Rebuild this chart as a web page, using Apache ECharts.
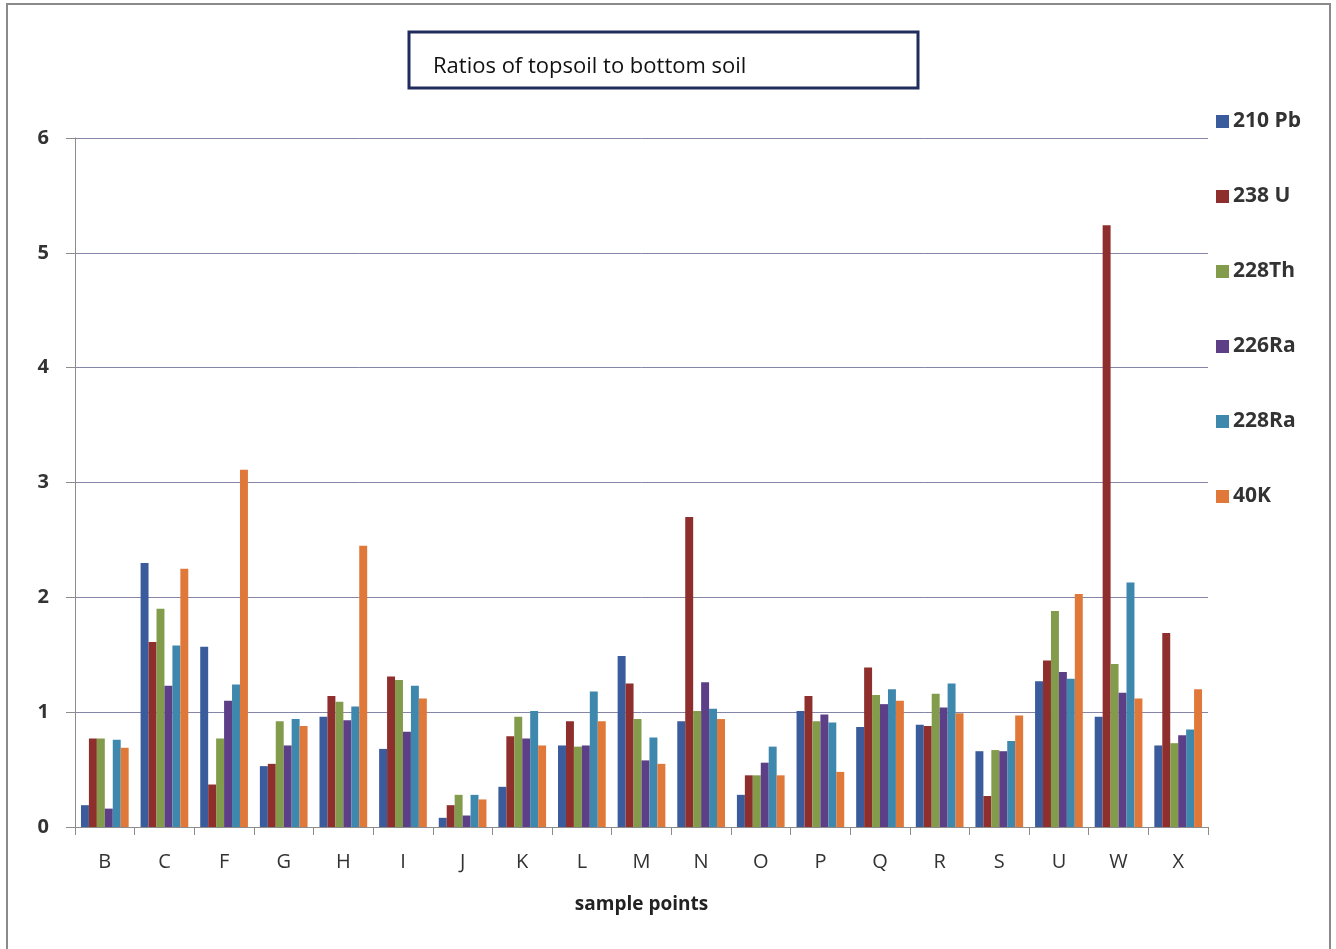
<!DOCTYPE html>
<html>
<head>
<meta charset="utf-8">
<script src="https://cdn.jsdelivr.net/npm/echarts@6/dist/echarts.min.js"></script>
<style>
  html, body { margin: 0; padding: 0; background: #fff; }
  #chart { width: 1336px; height: 949px; }
</style>
</head>
<body>
<div id="chart"></div>
<script>
const categories = ['B', 'C', 'F', 'G', 'H', 'I', 'J', 'K', 'L', 'M', 'N', 'O', 'P', 'Q', 'R', 'S', 'U', 'W', 'X']
const seriesNames = ['210 Pb', '238 U', '228Th', '226Ra', '228Ra', '40K']
const colors = ['#3a5b9c', '#8e2f2e', '#829c4c', '#5c3f86', '#3f88ad', '#e07839']
const yTicks = [0, 1, 2, 3, 4, 5, 6]

const pb210 = [0.19, 2.30, 1.57, 0.53, 0.96, 0.68, 0.08, 0.35, 0.71, 1.49, 0.92, 0.28, 1.01, 0.87, 0.89, 0.66, 1.27, 0.96, 0.71]
const u238  = [0.77, 1.61, 0.37, 0.55, 1.14, 1.31, 0.19, 0.79, 0.92, 1.25, 2.70, 0.45, 1.14, 1.39, 0.88, 0.27, 1.45, 5.24, 1.69]
const th228 = [0.77, 1.90, 0.77, 0.92, 1.09, 1.28, 0.28, 0.96, 0.70, 0.94, 1.01, 0.45, 0.92, 1.15, 1.16, 0.67, 1.88, 1.42, 0.73]
const ra226 = [0.16, 1.23, 1.10, 0.71, 0.93, 0.83, 0.10, 0.77, 0.71, 0.58, 1.26, 0.56, 0.98, 1.07, 1.04, 0.66, 1.35, 1.17, 0.80]
const ra228 = [0.76, 1.58, 1.24, 0.94, 1.05, 1.23, 0.28, 1.01, 1.18, 0.78, 1.03, 0.70, 0.91, 1.20, 1.25, 0.75, 1.29, 2.13, 0.85]
const k40   = [0.69, 2.25, 3.11, 0.88, 2.45, 1.12, 0.24, 0.71, 0.92, 0.55, 0.94, 0.45, 0.48, 1.10, 0.99, 0.97, 2.03, 1.12, 1.20]

const values = [pb210, u238, th228, ra226, ra228, k40]

const chart = echarts.init(document.getElementById('chart'))

chart.setOption({
  animation: false,
  color: colors,
  textStyle: { fontFamily: 'Open Sans' },
  graphic: [
    {
      type: 'rect',
      shape: { x: 7, y: 4, width: 1323, height: 950 },
      style: { fill: 'none', stroke: '#8a8a8a', lineWidth: 2 },
      silent: true
    },
    {
      type: 'rect',
      shape: { x: 409, y: 32, width: 509, height: 56 },
      style: { fill: '#fff', stroke: '#1f2d5c', lineWidth: 3 },
      silent: true
    },
    {
      type: 'text',
      left: 433,
      top: 56,
      style: {
        text: 'Ratios of topsoil to bottom soil',
        fill: '#111',
        font: '22px "Open Sans"'
      },
      silent: true
    }
  ],
  legend: {
    orient: 'vertical',
    left: 1211,
    top: 106,
    itemWidth: 13,
    itemHeight: 13,
    itemGap: 54,
    icon: 'rect',
    data: seriesNames,
    textStyle: { color: '#333', fontSize: 21, fontWeight: 'bold', fontFamily: 'Open Sans', padding: [0, 0, 0, -1] }
  },
  grid: {
    left: 75,
    right: 128,
    top: 138,
    bottom: 122
  },
  xAxis: {
    type: 'category',
    data: categories,
    name: 'sample points',
    nameLocation: 'middle',
    nameGap: 68,
    nameTextStyle: { color: '#222', fontSize: 19, fontWeight: 'bold' },
    axisLine: { lineStyle: { color: '#8c8c8c', width: 1 } },
    axisTick: { show: true, length: 8, lineStyle: { color: '#8c8c8c' } },
    axisLabel: { color: '#333', fontSize: 20, margin: 25 },
    splitLine: { show: false }
  },
  yAxis: {
    type: 'value',
    min: yTicks[0],
    max: yTicks[yTicks.length - 1],
    interval: 1,
    axisLine: { show: true, lineStyle: { color: '#8c8c8c' } },
    axisTick: { show: true, length: 9, lineStyle: { color: '#8c8c8c' } },
    axisLabel: { color: '#333', fontSize: 20, fontWeight: 'bold', margin: 26 },
    splitLine: { lineStyle: { color: '#8585a8', width: 1 } }
  },
  series: seriesNames.map((name, i) => ({
    name,
    type: 'bar',
    data: values[i],
    barGap: '0%',
    barCategoryGap: '20%',
    itemStyle: { color: colors[i] }
  }))
})
</script>
</body>
</html>
